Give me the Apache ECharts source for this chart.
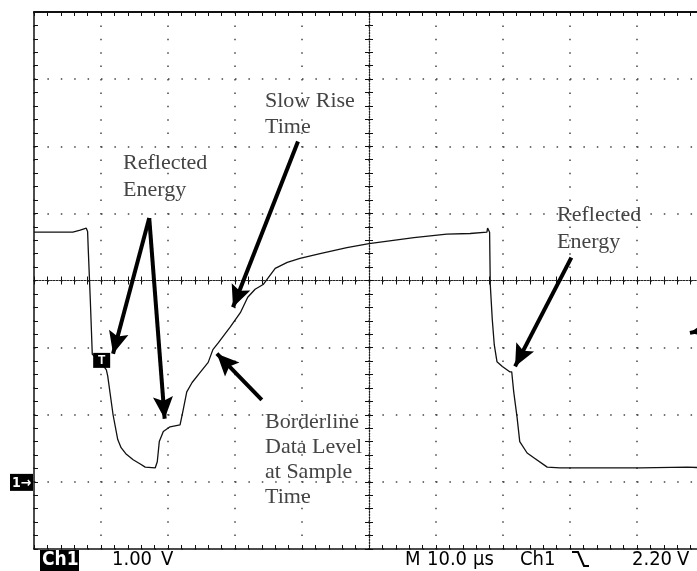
<!DOCTYPE html>
<html>
<head>
<meta charset="utf-8">
<script src="https://cdn.jsdelivr.net/npm/echarts@6/dist/echarts.min.js"></script>
<style>
html, body { margin: 0; padding: 0; background: #fff; }
#scope { width: 697px; height: 571px; }
</style>
</head>
<body>
<div id="scope"></div>
<script>
// trace: time in us (10 us/div), level in V (1 V/div, ground = 0)
var traceTime = [0, 5.8, 6.9, 7.8, 8.0, 8.1, 8.4, 8.7, 9.9, 10.8, 11.0, 11.8, 12.5, 13.0, 13.7, 14.8, 15.8, 16.6, 18.1,
	18.4, 18.7, 19.3, 20.3, 21.8, 22.2, 22.8, 23.6, 24.8, 26.0, 26.7, 27.5, 29.3, 30.8, 31.9, 33.0, 34.2, 36.0, 37.8,
	39.7, 42.7, 46.7, 50.0, 56.7, 61.6, 65.1, 67.6, 67.7, 68.0, 68.1, 68.4, 68.7, 69.1, 69.9, 71.0, 71.3, 71.6, 72.1,
	72.5, 73.6, 74.6, 76.6, 78.5, 84.0, 90.5, 97.5, 100];
var traceVolts = [3.72, 3.72, 3.75, 3.78, 3.73, 3.46, 2.72, 1.90, 1.79, 1.67, 1.58, 1.00, 0.63, 0.51, 0.42, 0.33, 0.27, 0.22, 0.21,
	0.30, 0.60, 0.75, 0.82, 0.85, 1.04, 1.34, 1.48, 1.63, 1.78, 1.97, 2.07, 2.31, 2.52, 2.75, 2.87, 2.94, 3.18, 3.27,
	3.33, 3.40, 3.49, 3.55, 3.64, 3.69, 3.70, 3.72, 3.78, 3.72, 2.94, 2.42, 2.04, 1.79, 1.72, 1.64, 1.64, 1.34, 0.96,
	0.60, 0.43, 0.36, 0.22, 0.21, 0.21, 0.21, 0.22, 0.21];

// annotation arrows, tail -> head, in the same units
var arrowFromT = [17.2, 17.2, 39.4, 34.0, 80.2, 100];
var arrowFromV = [3.93, 3.93, 5.07, 1.22, 3.34, 2.26];
var arrowToT = [11.8, 19.5, 29.7, 27.3, 71.8, 97.9];
var arrowToV = [1.91, 0.94, 2.60, 1.91, 1.72, 2.22];

// trigger marker on the trace
var trigTime = 10.1;
var trigVolts = 1.81;

var traceData = [];
for (var i = 0; i < traceTime.length; i++) {
	traceData.push([traceTime[i], traceVolts[i]]);
}
var arrows = [];
for (var j = 0; j < arrowFromT.length; j++) {
	arrows.push([
		{ coord: [arrowFromT[j], arrowFromV[j]] },
		{ coord: [arrowToT[j], arrowToV[j]], symbolSize: [20, 22], symbolOffset: [0, 11] }
	]);
}

var dots = { color: '#444', width: 1.5, type: [1.5, 11.9] };
var dense = { color: '#222', width: 1.2, type: [1.2, 1.6] };

function timeAxis(pos, offset, inside, line, split) {
	return {
		type: 'value', min: 0, max: 100, interval: 10, position: pos, offset: offset,
		axisLine: { show: true, onZero: false, lineStyle: line },
		axisTick: { show: true, inside: inside, length: 4, lineStyle: { color: '#111', width: 1 } },
		minorTick: { show: true, splitNumber: 5, length: 4, lineStyle: { color: '#111', width: 1 } },
		axisLabel: { show: false },
		splitLine: { show: split, lineStyle: dots }
	};
}
function voltAxis(pos, offset, inside, line, split) {
	return {
		type: 'value', min: -1, max: 7, interval: 1, position: pos, offset: offset,
		axisLine: { show: true, onZero: false, lineStyle: line },
		axisTick: { show: true, inside: inside, length: 4, lineStyle: { color: '#111', width: 1 } },
		minorTick: { show: true, splitNumber: 5, length: 4, lineStyle: { color: '#111', width: 1 } },
		axisLabel: { show: false },
		splitLine: { show: split, lineStyle: dots }
	};
}

var serif = '22px "Liberation Serif", "DejaVu Serif", serif';
var narrow = '"Liberation Sans Narrow", "DejaVu Sans Condensed", "Liberation Sans", sans-serif';
var stat = '20px ' + narrow;

var charts = echarts.init(document.getElementById('scope'));
var option = {
	animation: false,
	backgroundColor: '#fff',
	grid: { left: 34, top: 12, width: 670, height: 537, containLabel: false, outerBoundsMode: 'none' },
	xAxis: [
		timeAxis('bottom', 0, true, { color: '#111', width: 1.5 }, true),
		timeAxis('top', 0, true, { color: '#111', width: 2 }, false),
		timeAxis('bottom', -268.5, true, dense, false),
		timeAxis('bottom', -268.5, false, dense, false)
	],
	yAxis: [
		voltAxis('left', 0, true, { color: '#111', width: 1.5 }, true),
		voltAxis('left', -335, true, dense, false),
		voltAxis('left', -335, false, dense, false)
	],
	series: [{
		type: 'line',
		xAxisIndex: 0,
		yAxisIndex: 0,
		data: traceData,
		symbol: 'none',
		silent: true,
		lineStyle: { color: '#111', width: 1.3 },
		markLine: {
			silent: true,
			symbol: ['none', 'path://M10,0 L20,26 L10,21 L0,26 Z'],
			symbolSize: [0, 20],
			label: { show: false },
			lineStyle: { color: '#000', width: 4, type: 'solid' },
			itemStyle: { color: '#000' },
			data: arrows
		},
		markPoint: {
			silent: true,
			symbol: 'rect',
			symbolSize: [17, 15],
			itemStyle: { color: '#000' },
			label: { show: true, position: 'inside', formatter: 'T', color: '#fff', fontSize: 12, fontWeight: 'bold' },
			data: [{ coord: [trigTime, trigVolts] }]
		}
	}],
	graphic: [
		{ type: 'text', left: 123, top: 150, style: { text: 'Reflected\nEnergy', font: serif, lineHeight: 27, fill: '#444' } },
		{ type: 'text', left: 265, top: 88, style: { text: 'Slow Rise\nTime', font: serif, lineHeight: 26, fill: '#444' } },
		{ type: 'text', left: 557, top: 202, style: { text: 'Reflected\nEnergy', font: serif, lineHeight: 27, fill: '#444' } },
		{ type: 'text', left: 265, top: 410, style: { text: 'Borderline\nData Level\nat Sample\nTime', font: serif, lineHeight: 25, fill: '#444' } },
		// status line under the graticule
		{ type: 'rect', shape: { x: 40, y: 550, width: 39, height: 21 }, style: { fill: '#000' } },
		{ type: 'text', x: 42, y: 560, style: { text: 'Ch1', font: 'bold 19px ' + narrow, fill: '#fff', verticalAlign: 'middle' } },
		{ type: 'text', x: 112, y: 560, style: { text: '1.00', font: stat, fill: '#000', verticalAlign: 'middle' } },
		{ type: 'text', x: 161, y: 560, style: { text: 'V', font: stat, fill: '#000', verticalAlign: 'middle' } },
		{ type: 'text', x: 405, y: 560, style: { text: 'M', font: stat, fill: '#000', verticalAlign: 'middle' } },
		{ type: 'text', x: 427, y: 560, style: { text: '10.0', font: stat, fill: '#000', verticalAlign: 'middle' } },
		{ type: 'text', x: 473, y: 560, style: { text: 'µs', font: stat, fill: '#000', verticalAlign: 'middle' } },
		{ type: 'text', x: 520, y: 560, style: { text: 'Ch1', font: stat, fill: '#000', verticalAlign: 'middle' } },
		{ type: 'polyline', shape: { points: [[572, 552], [578, 552], [584, 566], [589, 566]] }, style: { stroke: '#000', lineWidth: 2, fill: null } },
		{ type: 'text', x: 632, y: 560, style: { text: '2.20', font: stat, fill: '#000', verticalAlign: 'middle' } },
		{ type: 'text', x: 677, y: 560, style: { text: 'V', font: stat, fill: '#000', verticalAlign: 'middle' } }
	]
};
charts.setOption(option);

// ground reference marker "1->" sits at 0 V on the left edge
var gy = charts.convertToPixel({ yAxisIndex: 0 }, 0);
charts.setOption({
	graphic: [
		{ id: 'gnd', type: 'rect', shape: { x: 10, y: gy - 8, width: 23, height: 17 }, style: { fill: '#000' } },
		{ id: 'gndTxt', type: 'text', x: 12, y: gy + 1, style: { text: '1→', font: 'bold 14px ' + narrow, fill: '#fff', verticalAlign: 'middle' } }
	]
});
</script>
</body>
</html>
